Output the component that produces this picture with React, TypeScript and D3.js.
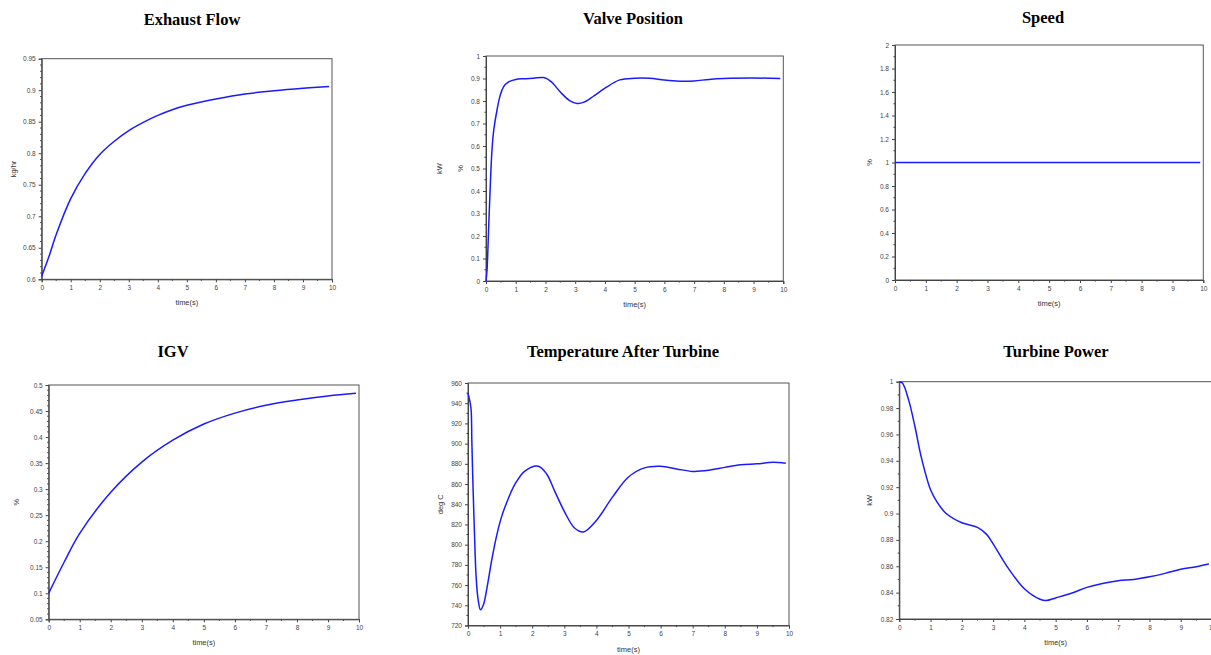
import React, { useEffect, useRef } from "react";
import * as d3 from "d3";

// time(s) samples
const tExhaust = [0, 0.25, 0.5, 1, 1.5, 2, 2.5, 3, 3.5, 4, 4.5, 5, 6, 7, 8, 9, 9.9];
const exhaustFlow = [0.605, 0.636, 0.671, 0.728, 0.768, 0.798, 0.819, 0.836, 0.849, 0.86, 0.869, 0.876, 0.886, 0.894, 0.899, 0.903, 0.906];

const tValve = [0, 0.034, 0.09, 0.146, 0.2, 0.26, 0.37, 0.48, 0.59, 0.76, 1, 1.27, 1.6, 1.95, 2.2, 2.5, 2.8, 3.06, 3.3, 3.6, 4, 4.5, 5, 5.5, 6, 6.5, 7, 7.5, 8, 9, 9.9];
const valvePosition = [0, 0.047, 0.24, 0.43, 0.58, 0.67, 0.76, 0.826, 0.863, 0.885, 0.896, 0.899, 0.901, 0.904, 0.885, 0.84, 0.803, 0.789, 0.795, 0.82, 0.857, 0.894, 0.901, 0.901, 0.893, 0.888, 0.889, 0.896, 0.9, 0.902, 0.9];

const tSpeed = [0, 9.9];
const speed = [1, 1];

const tIgv = [0, 0.5, 1, 2, 3, 4, 5, 6, 7, 8, 9, 9.9];
const igv = [0.1, 0.16, 0.215, 0.294, 0.352, 0.394, 0.425, 0.446, 0.461, 0.471, 0.479, 0.484];

const tTemp = [0, 0.07, 0.1, 0.12, 0.155, 0.2, 0.25, 0.31, 0.39, 0.48, 0.59, 0.74, 0.9, 1.05, 1.26, 1.46, 1.77, 2.19, 2.45, 2.7, 3, 3.32, 3.6, 4, 4.5, 5, 5.5, 6, 6.5, 7, 7.5, 8, 8.5, 9, 9.5, 9.9];
const tempAfterTurbine = [950, 940, 932, 902, 859, 813, 770, 747, 735.5, 740.5, 757, 785, 810, 828, 846, 859.6, 872.8, 877.7, 870, 853, 833, 816.5, 812.6, 824, 847, 867, 876, 877.5, 875, 872.5, 873.6, 876.5, 879, 880, 881.5, 880.5];

const tPower = [0, 0.1, 0.3, 0.5, 0.7, 1, 1.2, 1.5, 2, 2.5, 2.8, 3, 3.5, 4, 4.5, 4.7, 5, 5.5, 6, 6.5, 7, 7.5, 8, 8.5, 9, 9.5, 9.9];
const turbinePower = [1, 0.999, 0.986, 0.966, 0.943, 0.918, 0.909, 0.9, 0.893, 0.8895, 0.884, 0.877, 0.858, 0.843, 0.835, 0.834, 0.836, 0.8395, 0.844, 0.847, 0.849, 0.85, 0.852, 0.8546, 0.8577, 0.8597, 0.8617];

const xTicks = [0, 1, 2, 3, 4, 5, 6, 7, 8, 9, 10];
const exhaustTicks = [0.6, 0.65, 0.7, 0.75, 0.8, 0.85, 0.9, 0.95];
const valveTicks = [0, 0.1, 0.2, 0.3, 0.4, 0.5, 0.6, 0.7, 0.8, 0.9, 1];
const speedTicks = [0, 0.2, 0.4, 0.6, 0.8, 1, 1.2, 1.4, 1.6, 1.8, 2];
const igvTicks = [0.05, 0.1, 0.15, 0.2, 0.25, 0.3, 0.35, 0.4, 0.45, 0.5];
const tempTicks = [720, 740, 760, 780, 800, 820, 840, 860, 880, 900, 920, 940, 960];
const powerTicks = [0.82, 0.84, 0.86, 0.88, 0.9, 0.92, 0.94, 0.96, 0.98, 1];

const panels = [
  { title: "Exhaust Flow", t: tExhaust, v: exhaustFlow, yTicks: exhaustTicks, minor: 4,
    box: { l: 41.7, r: 332, t: 58.7, b: 279.3 }, titleX: 192, titleY: 24.5,
    yLabels: [{ text: "kg/hr", dx: 28 }] },
  { title: "Valve Position", t: tValve, v: valvePosition, yTicks: valveTicks, minor: 1,
    box: { l: 486, r: 783.3, t: 56, b: 281 }, titleX: 633, titleY: 24,
    yLabels: [{ text: "kW", dx: 47 }, { text: "%", dx: 26 }] },
  { title: "Speed", t: tSpeed, v: speed, yTicks: speedTicks, minor: 1,
    box: { l: 895, r: 1203.3, t: 45, b: 280 }, titleX: 1043, titleY: 22.5,
    yLabels: [{ text: "%", dx: 26 }] },
  { title: "IGV", t: tIgv, v: igv, yTicks: igvTicks, minor: 4,
    box: { l: 48.7, r: 359, t: 385, b: 619.3 }, titleX: 173, titleY: 357,
    yLabels: [{ text: "%", dx: 32 }] },
  { title: "Temperature After Turbine", t: tTemp, v: tempAfterTurbine, yTicks: tempTicks, minor: 1,
    box: { l: 468, r: 789, t: 383, b: 625.5 }, titleX: 623, titleY: 357,
    yLabels: [{ text: "deg C", dx: 28 }] },
  { title: "Turbine Power", t: tPower, v: turbinePower, yTicks: powerTicks, minor: 1,
    box: { l: 899.3, r: 1212, t: 381.7, b: 619 }, titleX: 1056, titleY: 357,
    yLabels: [{ text: "kW", dx: 30 }] },
];

const fmt = (d: number) => String(+d.toFixed(3));

export default function App() {
  const svgRef = useRef<SVGSVGElement | null>(null);

  useEffect(() => {
    const svg = d3.select(svgRef.current);
    svg.selectAll("*").remove();

    panels.forEach((p) => {
      const { l, r, t, b } = p.box;
      const x = d3.scaleLinear().domain([0, 10]).range([l, r]);
      const yMin = p.yTicks[0];
      const yMax = p.yTicks[p.yTicks.length - 1];
      const y = d3.scaleLinear().domain([yMin, yMax]).range([b, t]);
      const g = svg.append("g");

      g.append("text")
        .attr("x", p.titleX)
        .attr("y", p.titleY)
        .attr("text-anchor", "middle")
        .style("font-family", "'Liberation Serif', 'Times New Roman', serif")
        .style("font-weight", "bold")
        .style("font-size", "16.5px")
        .text(p.title);

      g.append("rect")
        .attr("x", l).attr("y", t)
        .attr("width", r - l).attr("height", b - t)
        .attr("fill", "none")
        .attr("stroke", "#555")
        .attr("stroke-width", 1);

      // minor ticks
      const xMinor = d3.range(0, 10, 0.5).filter((d) => d % 1 !== 0);
      g.selectAll(".xm").data(xMinor).enter().append("line")
        .attr("x1", (d) => x(d)).attr("x2", (d) => x(d))
        .attr("y1", b).attr("y2", b + 1.6)
        .attr("stroke", "#444");
      const step = p.yTicks[1] - p.yTicks[0];
      const yMinor: number[] = [];
      for (let i = 0; i < p.yTicks.length - 1; i++) {
        for (let k = 1; k <= p.minor; k++) yMinor.push(p.yTicks[i] + (step * k) / (p.minor + 1));
      }
      g.selectAll(".ym").data(yMinor).enter().append("line")
        .attr("x1", l - 1.6).attr("x2", l)
        .attr("y1", (d) => y(d)).attr("y2", (d) => y(d))
        .attr("stroke", "#444");

      const xAxis = d3.axisBottom(x).tickValues(xTicks).tickSize(3).tickPadding(3).tickFormat((d) => fmt(+d));
      const xg = g.append("g").attr("transform", `translate(0,${b})`).call(xAxis);
      const yAxis = d3.axisLeft(y).tickValues(p.yTicks).tickSize(3).tickPadding(3).tickFormat((d) => fmt(+d));
      const yg = g.append("g").attr("transform", `translate(${l},0)`).call(yAxis);
      [xg, yg].forEach((ag) => {
        ag.select(".domain").attr("stroke", "#444");
        ag.selectAll(".tick line").attr("stroke", "#444");
        ag.selectAll(".tick text")
          .attr("fill", "#444")
          .style("font-family", "'Liberation Sans', Arial, sans-serif")
          .style("font-size", "6.5px");
      });

      g.append("text")
        .attr("x", (l + r) / 2)
        .attr("y", b + 26)
        .attr("text-anchor", "middle")
        .attr("fill", "#333")
        .style("font-family", "'Liberation Sans', Arial, sans-serif")
        .style("font-size", "7.5px")
        .text("time(s)");

      p.yLabels.forEach((lab) => {
        const cx = l - lab.dx;
        const cy = (t + b) / 2;
        g.append("text")
          .attr("transform", `translate(${cx},${cy}) rotate(-90)`)
          .attr("text-anchor", "middle")
          .attr("dy", "0.35em")
          .attr("fill", "#333")
          .style("font-family", "'Liberation Sans', Arial, sans-serif")
          .style("font-size", "7.5px")
          .text(lab.text);
      });

      const line = d3.line<number>()
        .x((_, i) => x(p.t[i]))
        .y((d) => y(d))
        .curve(d3.curveCatmullRom.alpha(0.5));
      g.append("path")
        .datum(p.v)
        .attr("d", line)
        .attr("fill", "none")
        .attr("stroke", "#1a1aff")
        .attr("stroke-width", 1.5);
    });
  }, []);

  return (
    <svg
      ref={svgRef}
      width={1211}
      height={655}
      style={{ position: "absolute", left: 0, top: 0, background: "#fff" }}
    />
  );
}
